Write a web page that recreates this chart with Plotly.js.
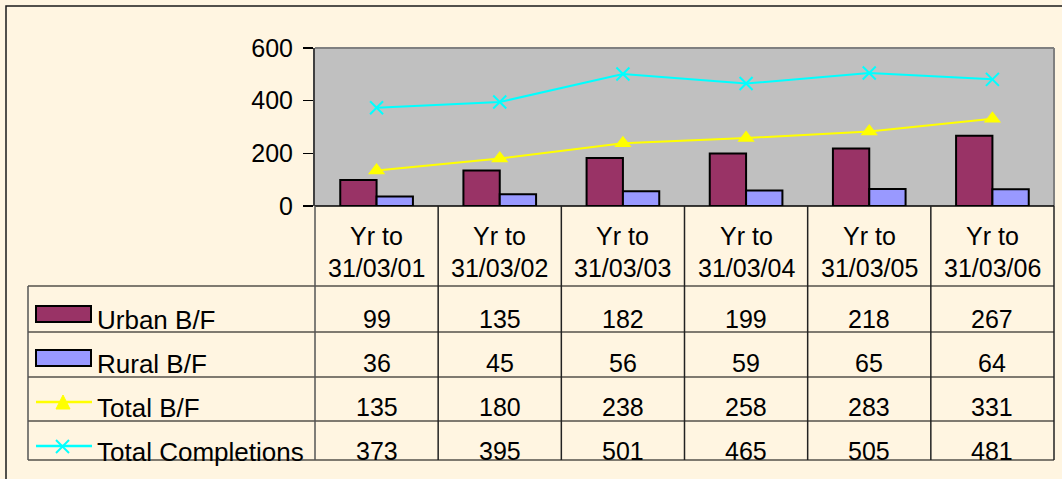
<!DOCTYPE html>
<html>
<head>
<meta charset="utf-8">
<script src="https://cdn.plot.ly/plotly-3.0.1.min.js"></script>
<style>
html,body{margin:0;padding:0;background:#FFF5E1;}
#chart{width:1062px;height:479px;}
</style>
</head>
<body>
<div id="chart"></div>
<script>
// ---- data ----
var categories = ["Yr to<br>31/03/01","Yr to<br>31/03/02","Yr to<br>31/03/03","Yr to<br>31/03/04","Yr to<br>31/03/05","Yr to<br>31/03/06"];
var catLine1 = ["Yr to","Yr to","Yr to","Yr to","Yr to","Yr to"];
var catLine2 = ["31/03/01","31/03/02","31/03/03","31/03/04","31/03/05","31/03/06"];
var seriesNames = ["Urban B/F","Rural B/F","Total B/F","Total Completions"];
var urbanBF = [99,135,182,199,218,267];
var ruralBF = [36,45,56,59,65,64];
var totalBF = [135,180,238,258,283,331];
var totalCompletions = [373,395,501,465,505,481];
var yTicks = [0,200,400,600];

// ---- geometry helpers (pixel -> paper) ----
var W = 1062, H = 479;
var L = 315, R = 1054, T = 48, B = 206;
function px(x){ return (x - L) / (R - L); }
function py(y){ return (B - y) / (B - T); }

var FONT = "Liberation Sans, Arial, sans-serif";
var FS = 25;

var traces = [
  {type:"bar", name:seriesNames[0], x:catLine2, y:urbanBF,
   marker:{color:"#993366", line:{color:"#000000", width:2}}},
  {type:"bar", name:seriesNames[1], x:catLine2, y:ruralBF,
   marker:{color:"#9999FF", line:{color:"#000000", width:2}}},
  {type:"scatter", mode:"lines+markers", name:seriesNames[2], x:catLine2, y:totalBF,
   line:{color:"#FFFF00", width:2},
   marker:{symbol:"triangle-up", size:15, color:"#FFFF00"}},
  {type:"scatter", mode:"lines+markers", name:seriesNames[3], x:catLine2, y:totalCompletions,
   line:{color:"#00FFFF", width:2},
   marker:{symbol:"x-thin", size:13, color:"#00FFFF", line:{color:"#00FFFF", width:2}}}
];

var shapes = [];
var annotations = [];
function hline(x0,x1,y,color,w){
  shapes.push({type:"line", xref:"paper", yref:"paper", x0:px(x0), x1:px(x1), y0:py(y), y1:py(y),
    line:{color:color||"#000000", width:w||1.5}});
}
function vline(x,y0,y1,color,w){
  shapes.push({type:"line", xref:"paper", yref:"paper", x0:px(x), x1:px(x), y0:py(y0), y1:py(y1),
    line:{color:color||"#000000", width:w||1.5}});
}
function text(t,x,y,anchor,size){
  annotations.push({xref:"paper", yref:"paper", x:px(x), y:py(y), text:t, showarrow:false,
    xanchor:anchor||"center", yanchor:"middle", font:{family:FONT, size:size||FS, color:"#000000"}});
}

// outer chart border
shapes.push({type:"rect", xref:"paper", yref:"paper", x0:px(6), x1:px(1070), y0:py(6), y1:py(500),
  line:{color:"#1a1a1a", width:1.5}, fillcolor:"rgba(0,0,0,0)", layer:"below"});
// plot area border (gray)
hline(L, R, T, "#808080", 2);
vline(R, T, B, "#808080", 2);

// table grid
var colW = (R - L) / categories.length;
var rowLines = [286, 332, 377, 421, 460];
hline(L, R, B, "#000000", 1.5);
rowLines.forEach(function(y){ hline(28, R, y, "#000000", 1.2); });
vline(28, 286, 460, "#555555", 1.5);
for (var i = 0; i <= categories.length; i++) {
  var x = L + colW * i;
  vline(x, B, 460, i === 0 ? "#555555" : "#222222", 1.5);
}

// header texts
for (var i = 0; i < categories.length; i++) {
  var cx = L + colW * (i + 0.5);
  text(catLine1[i], cx, 236);
  text(catLine2[i], cx, 268);
}
// value rows
var rowData = [urbanBF, ruralBF, totalBF, totalCompletions];
var rowCenters = [319, 363, 407, 451];
for (var r = 0; r < rowData.length; r++) {
  for (var i = 0; i < categories.length; i++) {
    var cx = L + colW * (i + 0.5);
    text(String(rowData[r][i]), cx, rowCenters[r]);
  }
  text(seriesNames[r], 95, rowCenters[r] + 1, "left", 26);
}

// legend keys
shapes.push({type:"rect", xref:"paper", yref:"paper", x0:px(36), x1:px(91), y0:py(306), y1:py(322),
  fillcolor:"#993366", line:{color:"#000000", width:2}});
shapes.push({type:"rect", xref:"paper", yref:"paper", x0:px(36), x1:px(91), y0:py(350), y1:py(366),
  fillcolor:"#9999FF", line:{color:"#000000", width:2}});
hline(36, 92, 402, "#FFFF00", 2.5);
shapes.push({type:"path", xref:"paper", yref:"paper",
  path:"M "+px(63)+" "+py(395)+" L "+px(70)+" "+py(409)+" L "+px(56)+" "+py(409)+" Z",
  fillcolor:"#FFFF00", line:{color:"#FFFF00", width:1}});
hline(36, 92, 446, "#00FFFF", 2.5);
shapes.push({type:"line", xref:"paper", yref:"paper", x0:px(56), x1:px(69), y0:py(440), y1:py(453),
  line:{color:"#00FFFF", width:2}});
shapes.push({type:"line", xref:"paper", yref:"paper", x0:px(56), x1:px(69), y0:py(453), y1:py(440),
  line:{color:"#00FFFF", width:2}});

var layout = {
  width: W, height: H,
  margin: {l: L, r: W - R, t: T, b: H - B, pad: 0},
  paper_bgcolor: "#FFF5E1",
  plot_bgcolor: "#C0C0C0",
  showlegend: false,
  barmode: "group",
  bargap: 0.41,
  bargroupgap: 0,
  font: {family: FONT, size: FS, color: "#000000"},
  xaxis: {type: "category", showticklabels: false, ticks: "", showgrid: false,
          zeroline: false, showline: false, range: [-0.5, 5.5], fixedrange: true},
  yaxis: {range: [0, 600], tickvals: yTicks, ticktext: yTicks.map(String),
          ticks: "outside", ticklen: 10, tickwidth: 1.5, tickcolor: "#000000",
          showgrid: false, zeroline: false, showline: true, linecolor: "#404040", linewidth: 2,
          tickfont: {family: FONT, size: FS, color: "#000000"}, ticklabelstandoff: 5, fixedrange: true},
  shapes: shapes,
  annotations: annotations
};

Plotly.newPlot("chart", traces, layout, {displayModeBar: false, staticPlot: true});
</script>
</body>
</html>
